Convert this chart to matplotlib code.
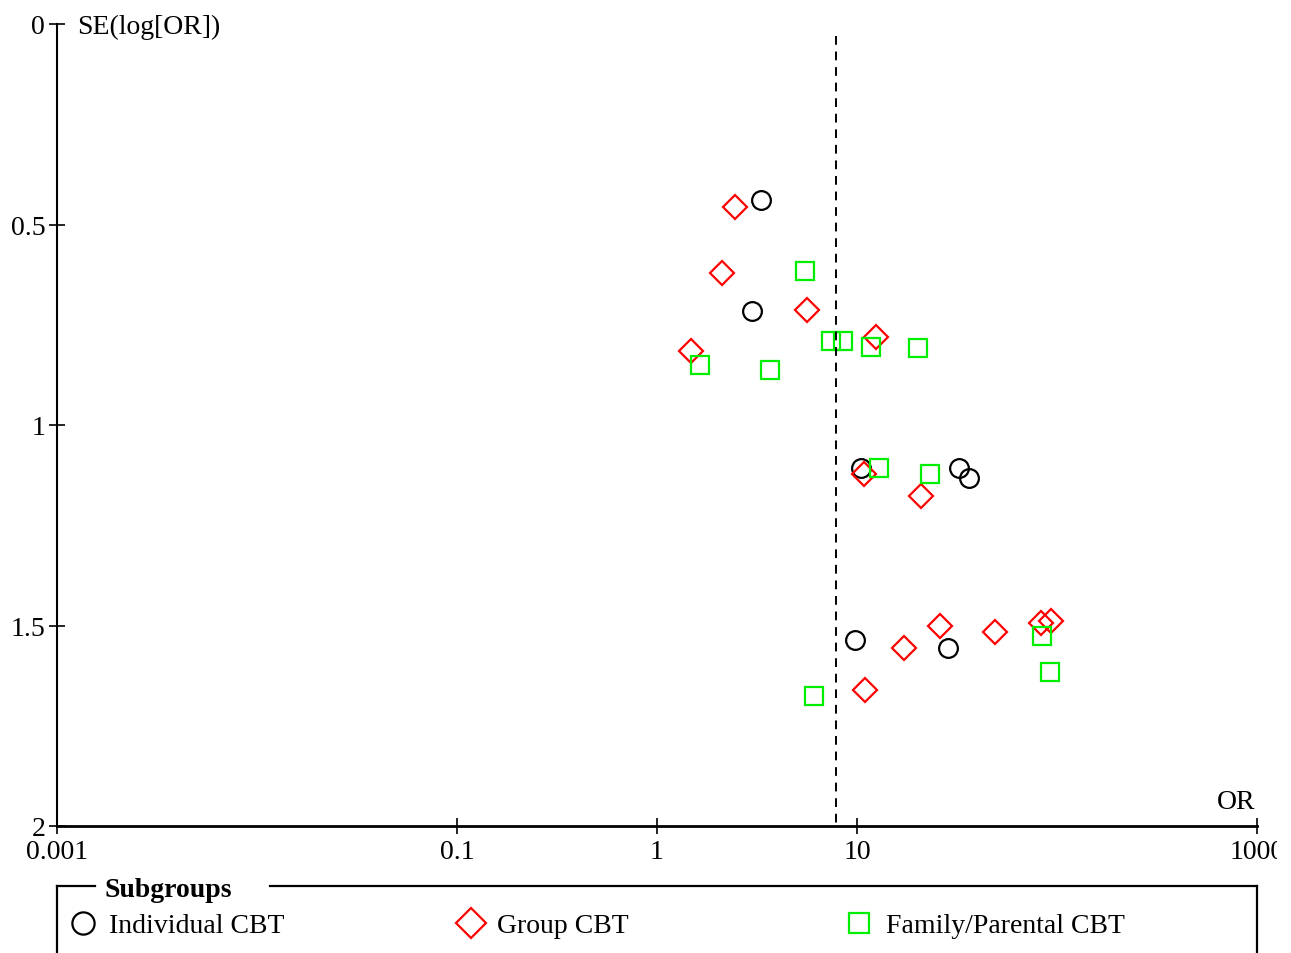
import matplotlib
matplotlib.use("Agg")
import matplotlib.pyplot as plt
from matplotlib.lines import Line2D
from matplotlib.transforms import Bbox, TransformedBbox

plt.rcParams["font.family"] = ["Liberation Serif", "DejaVu Serif"]

# Subgroup names
groups = ["Individual CBT", "Group CBT", "Family/Parental CBT"]

# Odds ratios and standard errors of log(OR), per subgroup
individual_or = [3.31, 2.99, 10.5, 32.4, 36.3, 9.77, 28.5]
individual_se = [0.439, 0.716, 1.108, 1.106, 1.131, 1.537, 1.555]

group_or = [2.45, 2.11, 5.62, 12.4, 1.48, 10.8, 20.9, 26.0, 49.0, 83.2, 93.3, 17.2, 11.0]
group_se = [0.457, 0.621, 0.714, 0.781, 0.816, 1.123, 1.178, 1.502, 1.515, 1.495, 1.490, 1.557, 1.662]

family_or = [5.50, 7.41, 8.51, 11.7, 20.2, 1.64, 3.67, 12.9, 23.2, 84.1, 92.3, 6.10]
family_se = [0.616, 0.791, 0.791, 0.806, 0.809, 0.851, 0.863, 1.106, 1.123, 1.525, 1.615, 1.677]

pooled_or = 7.85

x_ticks = [0.001, 0.1, 1, 10, 1000]
x_tick_labels = ["0.001", "0.1", "1", "10", "1000"]
y_ticks = [0, 0.5, 1, 1.5, 2]
y_tick_labels = ["0", "0.5", "1", "1.5", "2"]

W, H = 1291, 954
FS = 20
fig = plt.figure(figsize=(W / 100, H / 100), dpi=100)
ax = fig.add_axes([57 / W, 1 - 827 / H, (1257 - 57) / W, (827 - 25) / H])


def fx(px):
    return px / W


def fy(py):
    return 1 - py / H


styles = [
    dict(marker="o", ms=13.5, key_ms=16.0, mec="black"),
    dict(marker="D", ms=12.5, key_ms=15.0, mec="#ff0000"),
    dict(marker="s", ms=12.5, key_ms=15.0, mec="#00ee00"),
]
series = [(individual_or, individual_se), (group_or, group_se), (family_or, family_se)]

for (xs, ys), st in zip(series, styles):
    ax.plot(xs, ys, linestyle="none", marker=st["marker"], ms=st["ms"],
            mfc="none", mec=st["mec"], mew=1.6, clip_on=False)

# Pooled estimate
ax.plot([pooled_or, pooled_or], [0.03, 2], color="black", lw=1.4,
        linestyle=(0, (4.5, 3.5)))

ax.set_xscale("log")
ax.set_xlim(0.001, 1000)
ax.set_ylim(2, 0)
ax.set_xticks(x_ticks)
ax.set_xticklabels(x_tick_labels)
ax.xaxis.set_minor_locator(matplotlib.ticker.NullLocator())
ax.set_yticks(y_ticks)
ax.set_yticklabels(y_tick_labels)

for s in ["top", "right"]:
    ax.spines[s].set_visible(False)
ax.spines["bottom"].set_linewidth(2.0)
ax.spines["left"].set_linewidth(1.5)

ax.tick_params(axis="x", direction="inout", length=12, width=1.2,
               labelsize=FS, pad=3.5)
ax.tick_params(axis="y", direction="inout", length=11, width=1.2,
               labelsize=FS, pad=3)

# Clip the last x label at the figure edge
lbl = ax.get_xticklabels()[-1]
lbl.set_clip_box(TransformedBbox(Bbox([[0, 0], [1277 / W, 1]]), fig.transFigure))
lbl.set_clip_on(True)

fig.text(fx(77), fy(27), "SE(log[OR])", fontsize=FS, ha="left", va="center")
fig.text(fx(1256), fy(803), "OR", fontsize=FS, ha="right", va="center")

# Subgroup key box
lw_box = 1.6
fig.add_artist(Line2D([fx(57), fx(95)], [fy(887), fy(887)], color="black",
                      lw=lw_box, transform=fig.transFigure))
fig.add_artist(Line2D([fx(270), fx(1257)], [fy(887), fy(887)], color="black",
                      lw=lw_box, transform=fig.transFigure))
fig.add_artist(Line2D([fx(57), fx(57)], [fy(887), fy(960)], color="black",
                      lw=lw_box, transform=fig.transFigure))
fig.add_artist(Line2D([fx(1257), fx(1257)], [fy(887), fy(960)], color="black",
                      lw=lw_box, transform=fig.transFigure))
fig.text(fx(105), fy(891), "Subgroups", fontsize=FS, fontweight="bold",
         ha="left", va="center")

key_x = [83, 471, 859]
text_x = [109, 497, 886]
for name, st, kx, tx in zip(groups, styles, key_x, text_x):
    fig.add_artist(Line2D([fx(kx)], [fy(924)], linestyle="none",
                          marker=st["marker"], ms=st["key_ms"], mfc="none",
                          mec=st["mec"], mew=1.6, transform=fig.transFigure))
    fig.text(fx(tx), fy(927), name, fontsize=FS, ha="left", va="center")

fig.savefig("out.png", dpi=100)
